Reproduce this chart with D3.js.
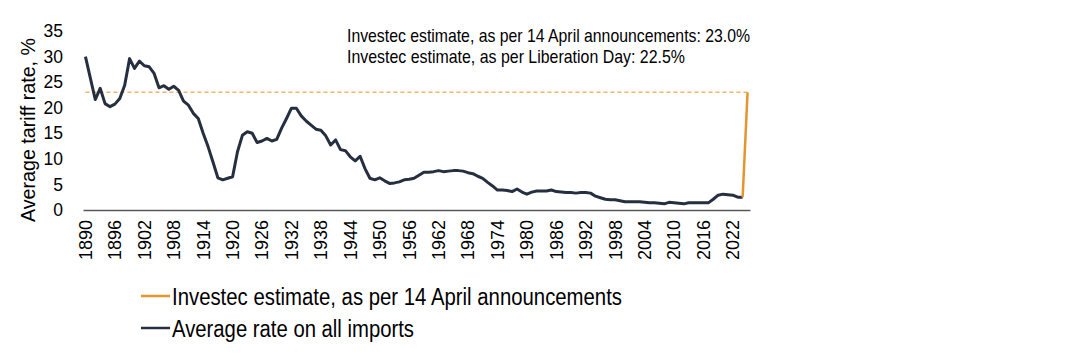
<!DOCTYPE html>
<html>
<head>
<meta charset="utf-8">
<script src="https://cdn.jsdelivr.net/npm/d3@7"></script>
<style>
  html, body { margin: 0; padding: 0; background: #fff; }
  svg { display: block; font-family: "Liberation Sans", Arial, sans-serif; }
</style>
</head>
<body>
<svg id="chart" width="1088" height="360"></svg>
<script>
// ---- data ----
const years = d3.range(1890, 2026);            // categories 1890..2025
const avgRate = [
  30.0, 25.8, 21.6, 23.8, 20.8, 20.2, 20.7, 21.8, 24.4, 29.6,
  27.7, 29.1, 28.2, 28.0, 26.7, 23.9, 24.3, 23.6, 24.2, 23.4,
  21.3, 20.5, 18.9, 17.9, 15.0, 12.4, 9.4, 6.3, 5.9, 6.2,
  6.5, 11.4, 14.6, 15.3, 15.0, 13.2, 13.5, 14.0, 13.5, 13.8,
  16.0, 17.9, 19.9, 19.9, 18.4, 17.4, 16.6, 15.8, 15.6, 14.5,
  12.7, 13.7, 11.8, 11.6, 10.4, 9.6, 10.5, 8.1, 6.2, 5.9,
  6.3, 5.7, 5.2, 5.3, 5.5, 5.9, 6.0, 6.2, 6.8, 7.4,
  7.4, 7.5, 7.7, 7.5, 7.6, 7.7, 7.7, 7.6, 7.3, 7.1,
  6.6, 6.2, 5.4, 4.7, 3.9, 3.9, 3.8, 3.6, 4.1, 3.5,
  3.1, 3.5, 3.7, 3.7, 3.7, 3.9, 3.6, 3.5, 3.4, 3.4,
  3.3, 3.4, 3.4, 3.3, 2.7, 2.4, 2.1, 2.0, 2.0, 1.8,
  1.6, 1.6, 1.6, 1.6, 1.5, 1.4, 1.4, 1.3, 1.2, 1.5,
  1.4, 1.3, 1.2, 1.4, 1.4, 1.4, 1.4, 1.4, 2.1, 2.9,
  3.1, 3.0, 2.9, 2.5, 2.5
]; // 1890..2024
const estimateYears = [2024, 2025];
const estimateValues = [2.5, 23.0];
const referenceValue = 23.0;
const yTicks = [0, 5, 10, 15, 20, 25, 30, 35];
const xTickYears = [1890, 1896, 1902, 1908, 1914, 1920, 1926, 1932, 1938, 1944, 1950,
  1956, 1962, 1968, 1974, 1980, 1986, 1992, 1998, 2004, 2010, 2016, 2022];
const annotations = [
  "Investec estimate, as per 14 April announcements: 23.0%",
  "Investec estimate, as per Liberation Day: 22.5%"
];
const legendItems = [
  { label: "Investec estimate, as per 14 April announcements", color: "#e59530" },
  { label: "Average rate on all imports", color: "#262f40" }
];
const yTitle = "Average tariff rate, %";

// ---- chart ----
const svg = d3.select("#chart");
const x = d3.scaleBand().domain(years).range([83, 750]);
const y = d3.scaleLinear().domain([0, 35]).range([210, 31]);
const cx = yr => x(yr) + x.bandwidth() / 2;

// y axis
const yAxis = svg.append("g").attr("transform", "translate(66,0)")
  .call(d3.axisLeft(y).tickValues(yTicks).tickSize(0).tickPadding(3));
yAxis.select(".domain").remove();
yAxis.selectAll("text").attr("font-size", 17.5).attr("fill", "#000")
  .attr("font-family", "'Liberation Sans', Arial, sans-serif");

// x axis
const xAxis = svg.append("g").attr("transform", "translate(0,210)")
  .call(d3.axisBottom(x).tickValues(xTickYears).tickSize(0).tickSizeOuter(0));
xAxis.select(".domain").attr("stroke", "#595959").attr("stroke-width", 1.5);
xAxis.selectAll("text")
  .attr("font-size", 18).attr("fill", "#000")
  .attr("font-family", "'Liberation Sans', Arial, sans-serif")
  .attr("transform", "rotate(-90)")
  .attr("text-anchor", "end")
  .attr("x", -10).attr("y", 0).attr("dy", "0.36em");

// y title
svg.append("text")
  .attr("transform", `translate(35,${(222 + 38) / 2}) rotate(-90)`)
  .attr("text-anchor", "middle")
  .attr("font-size", 21)
  .attr("textLength", 184).attr("lengthAdjust", "spacingAndGlyphs")
  .text(yTitle);

// reference dashed line
svg.append("line")
  .attr("x1", cx(years[0])).attr("x2", cx(years[years.length - 1]))
  .attr("y1", y(referenceValue)).attr("y2", y(referenceValue))
  .attr("stroke", "#f0b46a").attr("stroke-width", 1.5)
  .attr("stroke-dasharray", "4,3");

// average rate line
const avgData = avgRate.map((v, i) => ({ year: years[i], v }));
const line = d3.line().x(d => cx(d.year)).y(d => y(d.v));
svg.append("path").datum(avgData)
  .attr("d", line).attr("fill", "none")
  .attr("stroke", legendItems[1].color).attr("stroke-width", 3)
  .attr("stroke-linejoin", "round");

// estimate line
const estData = estimateYears.map((yr, i) => ({ year: yr, v: estimateValues[i] }));
svg.append("path").datum(estData)
  .attr("d", line).attr("fill", "none")
  .attr("stroke", legendItems[0].color).attr("stroke-width", 2.5);

// annotations
const annLens = [403, 338];
annotations.forEach((t, i) => {
  svg.append("text")
    .attr("x", 347).attr("y", 41.5 + i * 21.7)
    .attr("font-size", 19)
    .attr("textLength", annLens[i]).attr("lengthAdjust", "spacingAndGlyphs")
    .text(t);
});

// legend
const legLens = [450, 242];
legendItems.forEach((d, i) => {
  const yy = 296 + i * 32;
  svg.append("line").attr("x1", 141).attr("x2", 170)
    .attr("y1", yy).attr("y2", yy)
    .attr("stroke", d.color).attr("stroke-width", 2.5);
  svg.append("text")
    .attr("x", 172).attr("y", yy + 9)
    .attr("font-size", 23.5)
    .attr("textLength", legLens[i]).attr("lengthAdjust", "spacingAndGlyphs")
    .text(d.label);
});
</script>
</body>
</html>
